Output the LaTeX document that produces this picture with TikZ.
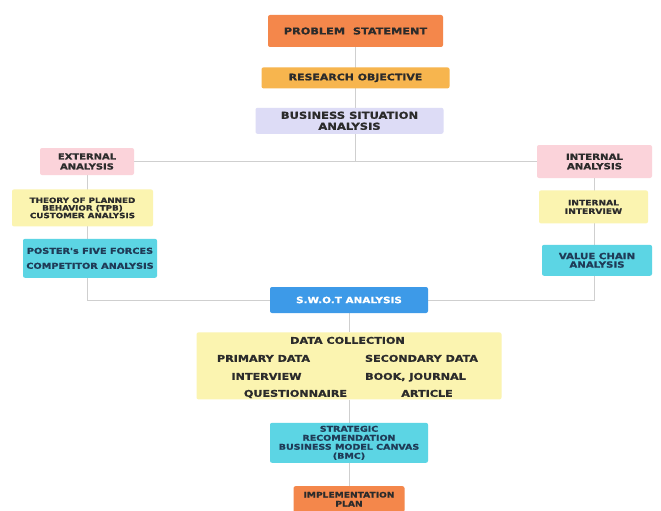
\documentclass[tikz,border=0pt]{standalone}
\usepackage{fontspec}
\newfontfamily\dgmfont{DejaVu Sans}[FakeStretch=1.2, FakeBold=1]
\usetikzlibrary{positioning,backgrounds}
\definecolor{dorange}{HTML}{F4874B}
\definecolor{dgold}{HTML}{F7B54E}
\definecolor{dlav}{HTML}{DDDCF6}
\definecolor{dpink}{HTML}{FBD3DA}
\definecolor{dyell}{HTML}{FBF4B0}
\definecolor{dcyan}{HTML}{5CD5E4}
\definecolor{dblue}{HTML}{3D9AE8}
\definecolor{dink}{HTML}{2B2B2B}
\definecolor{dnavy}{HTML}{1F3B57}
\definecolor{dline}{HTML}{CFCFCF}
\newcommand{\dfont}[2]{\dgmfont\bfseries\fontsize{#1}{#2}\selectfont}
\tikzstyle{dbox}=[rectangle, rounded corners=2pt, inner sep=0pt, align=center, text=dink]
\tikzstyle{obox}=[dbox, fill=dorange]
\tikzstyle{gbox}=[dbox, fill=dgold]
\tikzstyle{lbox}=[dbox, fill=dlav]
\tikzstyle{rbox}=[dbox, fill=dpink]
\tikzstyle{ybox}=[dbox, fill=dyell]
\tikzstyle{cbox}=[dbox, fill=dcyan, text=dnavy]
\tikzstyle{bbox}=[dbox, fill=dblue, text=white]
\tikzstyle{dtext}=[inner sep=0pt, text=dink, text height=6.8pt, text depth=0pt, font=\dfont{9.3}{10}]
\tikzstyle{pline}=[-, draw=dline, line width=0.8pt]

\begin{document}
\begin{tikzpicture}[x=1pt, y=1pt]
\useasboundingbox (0,0) rectangle (661,-511);

\node (PS) [obox, minimum width=175pt, minimum height=32pt, font=\dfont{9.4}{11}
] at (355.5,-31) {PROBLEM\ \ STATEMENT};
\node (RO) [gbox, minimum width=188pt, minimum height=21pt, font=\dfont{9.1}{11},
below=20pt of PS] {RESEARCH OBJECTIVE};
\node (BSA) [lbox, minimum width=188pt, minimum height=26pt, font=\dfont{9.6}{11},
below=19pt of RO, xshift=-6pt] {BUSINESS SITUATION\\ANALYSIS};

\node (EA) [rbox, minimum width=94pt, minimum height=27pt, font=\dfont{8.3}{10}
] at (87,-161.5) {EXTERNAL\\ANALYSIS};
\node (TPB) [ybox, minimum width=141pt, minimum height=37pt, font=\dfont{7.3}{7.6},
below=14pt of EA, xshift=-4.5pt] {THEORY OF PLANNED\\BEHAVIOR (TPB)\\CUSTOMER ANALYSIS};
\node (PFF) [cbox, minimum width=134pt, minimum height=39pt, font=\dfont{8.1}{15},
below=12pt of TPB, xshift=7.5pt] {POSTER's FIVE FORCES\\COMPETITOR ANALYSIS};

\node (IA) [rbox, minimum width=115pt, minimum height=33pt, font=\dfont{8.5}{9.5}
] at (594.5,-161.5) {INTERNAL\\ANALYSIS};
\node (II) [ybox, minimum width=109pt, minimum height=33pt, font=\dfont{7.6}{8.5},
below=12pt of IA, xshift=-1pt] {INTERNAL\\INTERVIEW};
\node (VCA) [cbox, minimum width=110pt, minimum height=31pt, font=\dfont{8.5}{8.5},
below=21pt of II, xshift=3.5pt] {VALUE CHAIN\\ANALYSIS};

\node (SWOT) [bbox, minimum width=158pt, minimum height=26pt, font=\dfont{8.7}{10}
] at (349,-300) {S.W.O.T ANALYSIS};
\node (DC) [ybox, minimum width=305pt, minimum height=67pt,
below=19pt of SWOT] {};
\node (DCT) [dtext] at ([shift={(-1.5,25.5)}]DC.center) {DATA COLLECTION};
\node (PRI) [dtext] at ([shift={(-85.5,7.5)}]DC.center) {PRIMARY DATA};
\node (SEC) [dtext] at ([shift={(72.5,7.5)}]DC.center) {SECONDARY DATA};
\node (INT) [dtext] at ([shift={(-82.5,-10.5)}]DC.center) {INTERVIEW};
\node (BOOK) [dtext] at ([shift={(66.5,-10.5)}]DC.center) {BOOK, JOURNAL};
\node (QUES) [dtext] at ([shift={(-53.5,-27.5)}]DC.center) {QUESTIONNAIRE};
\node (ART) [dtext] at ([shift={(78,-27.5)}]DC.center) {ARTICLE};
\node (STR) [cbox, minimum width=158pt, minimum height=40pt, font=\dfont{7.9}{9},
below=23pt of DC] {STRATEGIC\\RECOMENDATION\\BUSINESS MODEL CANVAS\\(BMC)};
\node (IMP) [obox, minimum width=111pt, minimum height=26pt, font=\dfont{7.6}{9},
below=23pt of STR] {IMPLEMENTATION\\PLAN};

\begin{scope}[on background layer]
 \fill[white] (0,0) rectangle (661,-511);
 \draw[pline]   (PS.south) -- (PS.south |- EA.east) ;
 \draw[pline]   (EA.east) -- (IA.west) ;
 \draw[pline]   (EA.south) |- (SWOT.west) ;
 \draw[pline]   (IA.south) |- (SWOT.east) ;
 \draw[pline]   (SWOT.south) -- (DC.north) ;
 \draw[pline]   (DC.south) -- (STR.north) ;
 \draw[pline]   (STR.south) -- (IMP.north) ;
\end{scope}

\end{tikzpicture}
\end{document}
